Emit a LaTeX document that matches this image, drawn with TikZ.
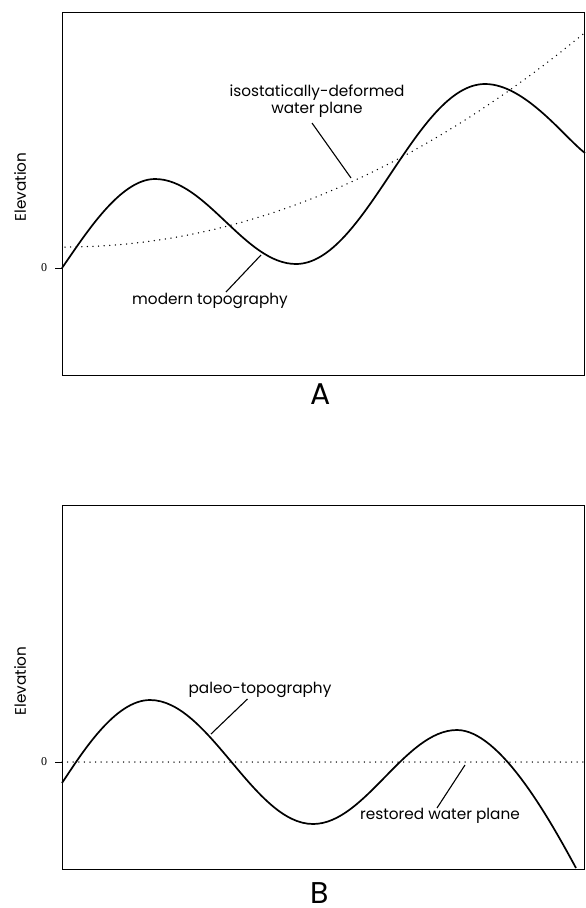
\documentclass[tikz,border=0pt]{standalone}
\usepackage{fontspec}
\setmainfont{Poppins}
\newfontfamily\zerofont{Liberation Serif}
\begin{document}
\begin{tikzpicture}[x=1pt,y=-1pt,
  frame/.style={draw=black,line width=0.9pt},
  topo/.style={draw=black,line width=1.7pt},
  dotline/.style={draw=black,line width=1.5pt,line cap=round,dash pattern=on 0pt off 5.6pt},
  leader/.style={draw=black,line width=1.1pt},
  lbl/.style={font=\fontsize{15.3}{17.5}\selectfont,inner sep=0pt,align=center},
  axlbl/.style={font=\fontsize{15.3}{17}\selectfont,inner sep=0pt,rotate=90},
  zero/.style={font=\zerofont\fontsize{12}{14}\selectfont,inner sep=0pt},
  panel/.style={font=\fontsize{30}{32}\selectfont,inner sep=0pt}]
\useasboundingbox (0,0) rectangle (586,908);
\fill[white] (0,0) rectangle (586,908);
% ---------- Panel A ----------
\node[frame,minimum width=522pt,minimum height=363pt,inner sep=0pt,anchor=north west] (boxA) at (62,12) {};
\node[axlbl] (elevA) at (20,187) {Elevation};
\coordinate (tickA) at (55,268);
\coordinate (zeroA) at (62,268);
\node[zero] (zA) at (44,268) {0};
\draw[frame] (tickA) -- (zeroA);
\draw[topo] (62,268) .. controls (85,235) and (120,179) .. (155,179)
  .. controls (206,179) and (245,264) .. (296,264)
  .. controls (365,264) and (416,84) .. (485,84)
  .. controls (525,84) and (565,138) .. (585,153);
\draw[dotline] plot[domain=65:585,samples=60] (\x,{247-0.000788*(\x-65)*(\x-65)});
\node[lbl] (isoA) at (317,101) {isostatically-deformed\\water plane};
\coordinate (isoEnd) at (351,178);
\draw[leader] (312,123) -- (isoEnd);
\node[lbl] (modA) at (210,301) {modern topography};
\coordinate (modEnd) at (261,255);
\draw[leader] (226,292) -- (modEnd);
\node[panel] (labA) at (321,394.5) {A};
% ---------- Panel B ----------
\node[frame,minimum width=522pt,minimum height=364pt,inner sep=0pt,anchor=north west] (boxB) at (62,504.5) {};
\node[axlbl] (elevB) at (20,681) {Elevation};
\coordinate (tickB) at (55,762);
\coordinate (zeroB) at (62,762);
\node[zero] (zB) at (44,762) {0};
\draw[frame] (tickB) -- (zeroB);
\draw[dotline] (zeroB) -- (584,762);
\draw[topo] (62,783) .. controls (82,753) and (115,700) .. (150,700)
  .. controls (209,700) and (254,824) .. (313,824)
  .. controls (365,824) and (405,730) .. (457,730)
  .. controls (500,730) and (550,820) .. (576,868);
\node[lbl] (paleo) at (260,690) {paleo-topography};
\coordinate (paleoEnd) at (211,734);
\draw[leader] (247.5,699) -- (paleoEnd);
\node[lbl] (rest) at (440,816) {restored water plane};
\coordinate (restEnd) at (465,765);
\draw[leader] (437,808) -- (restEnd);
\node[panel] (labB) at (319.5,893.5) {B};
\end{tikzpicture}
\end{document}
